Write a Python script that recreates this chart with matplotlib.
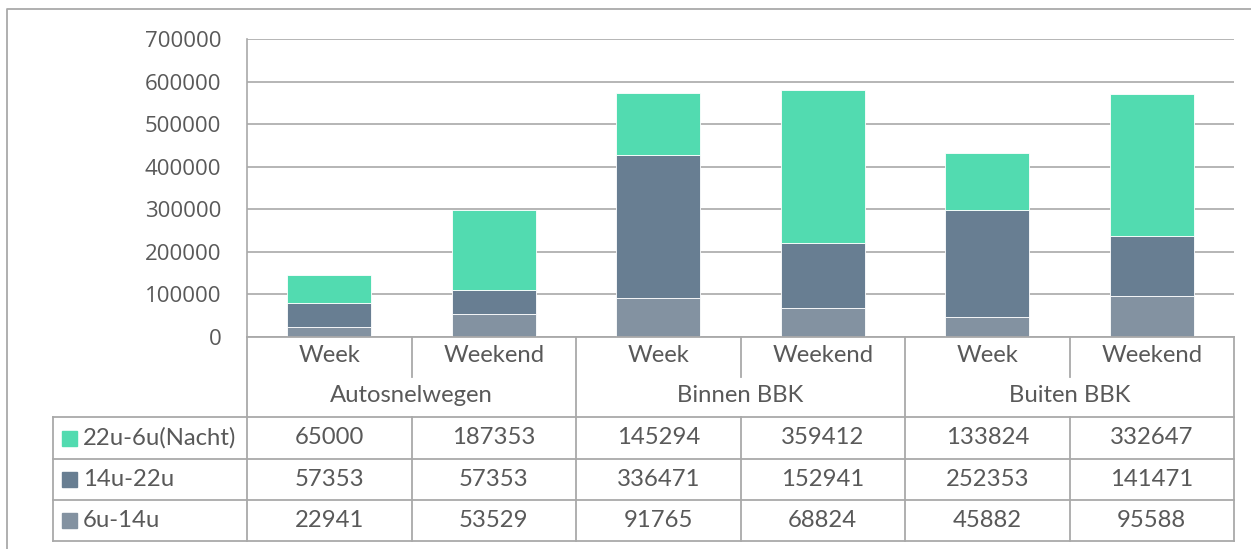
import numpy as np
import matplotlib.pyplot as plt
from matplotlib.lines import Line2D
from matplotlib.patches import Rectangle

W, H = 1251, 549

groups = ['Autosnelwegen', 'Binnen BBK', 'Buiten BBK']
periods = ['Week', 'Weekend', 'Week', 'Weekend', 'Week', 'Weekend']
series = ['22u-6u(Nacht)', '14u-22u', '6u-14u']
nacht = [65000, 187353, 145294, 359412, 133824, 332647]
avond = [57353, 57353, 336471, 152941, 252353, 141471]
dag = [22941, 53529, 91765, 68824, 45882, 95588]
yticks = [0, 100000, 200000, 300000, 400000, 500000, 600000, 700000]
colors = ['#52DBB0', '#687E92', '#8392A1']

txt = '#595959'
line = '#A9A9A9'

fig = plt.figure(figsize=(W / 100, H / 100), dpi=100)


def box(x0, y0, x1, y1):
    # pixel box -> figure coords
    return [x0 / W, 1 - y1 / H, (x1 - x0) / W, (y1 - y0) / H]


ax = fig.add_axes(box(247, 39, 1234, 337))
x = np.arange(len(periods))
bw = 0.51
ax.bar(x, dag, bw, color=colors[2], edgecolor='white', linewidth=0.6, zorder=3)
ax.bar(x, avond, bw, bottom=dag, color=colors[1], edgecolor='white', linewidth=0.6, zorder=3)
ax.bar(x, nacht, bw, bottom=np.add(dag, avond), color=colors[0], edgecolor='white', linewidth=0.6, zorder=3)
ax.set_xlim(-0.5, 5.5)
ax.set_ylim(0, 700000)
ax.set_yticks(yticks)
ax.set_yticklabels([str(v) for v in yticks], family='Open Sans', fontsize=16, color=txt)
ax.tick_params(axis='y', length=0, pad=18.5)
ax.set_xticks([])
ax.grid(axis='y', color=line, linewidth=1.2, zorder=0)
for s in ['top', 'right', 'bottom']:
    ax.spines[s].set_visible(False)
ax.spines['left'].set_color(line)
ax.spines['left'].set_linewidth(1.2)

# data table under the axis
tab = fig.add_axes(box(53, 337, 1234, 541))
colw = 164.5


def px2x(px):
    return -0.5 + (px - 247) / colw


tab.set_xlim(px2x(53), 5.5)
tab.set_ylim(204, 0)
tab.axis('off')

lk = dict(color=line, linewidth=1.3, clip_on=False)
font = dict(family='Lato', fontsize=17.2, color=txt, va='center')

# horizontal lines
tab.plot([-0.5, 5.5], [0, 0], **lk)
for yy in [80, 122, 163, 204]:
    tab.plot([px2x(53), 5.5], [yy, yy], **lk)
# verticals
tab.plot([-0.5, -0.5], [0, 204], **lk)
tab.plot([5.5, 5.5], [0, 204], **lk)
tab.plot([px2x(53), px2x(53)], [80, 204], **lk)
for i in range(1, 6):
    xb = i - 0.5
    if i % 2 == 0:
        tab.plot([xb, xb], [0, 204], **lk)
    else:
        tab.plot([xb, xb], [0, 40], **lk)
        tab.plot([xb, xb], [80, 204], **lk)

for i, p in enumerate(periods):
    tab.text(i, 19, p, ha='center', **font)
for g, name in enumerate(groups):
    tab.text(2 * g + 0.5, 59, name, ha='center', **font)

rows = [nacht, avond, dag]
row_y = [101, 142.5, 183.5]
for r, (vals, yy) in enumerate(zip(rows, row_y)):
    for i, v in enumerate(vals):
        tab.text(i, yy, str(v), ha='center', **font)
    tab.add_patch(Rectangle((px2x(62), yy - 7.5), 15 / colw, 15,
                            color=colors[r], clip_on=False))
    tab.text(px2x(83), yy, series[r], ha='left', **font)

# outer chart border
fig.add_artist(Line2D([7 / W, 7 / W, 1], [0, 1 - 9 / H, 1 - 9 / H],
                      color=line, linewidth=1.3))

fig.savefig('out.png', dpi=100)
